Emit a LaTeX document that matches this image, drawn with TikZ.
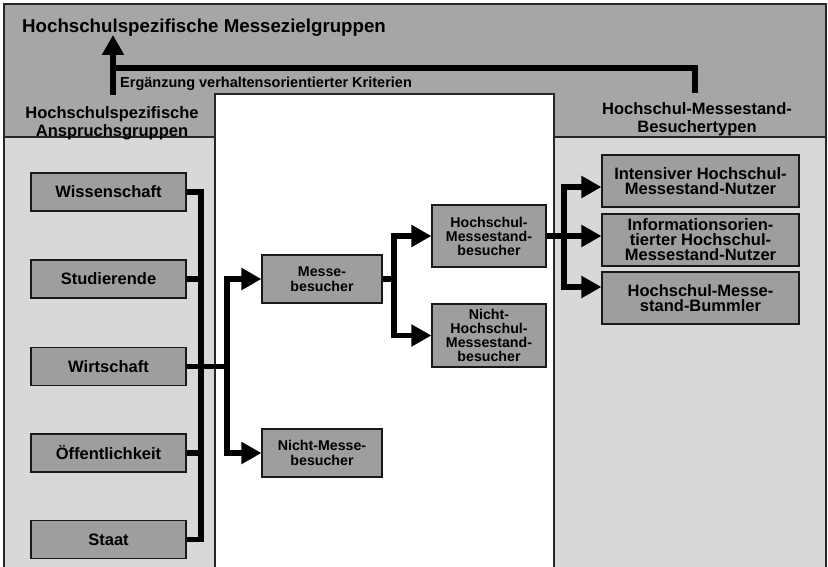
\documentclass[tikz,border=0pt]{standalone}
\usepackage{fontspec}
\setmainfont{Liberation Sans}
\usetikzlibrary{arrows.meta}
\definecolor{bandgray}{HTML}{A6A6A6}
\definecolor{colgray}{HTML}{D8D8D8}
\definecolor{boxgray}{HTML}{9E9E9E}
\begin{document}
\begin{tikzpicture}[x=1pt,y=-1pt,line join=miter,
  frame/.style={draw=black!85,line width=1.1pt},
  box/.style={draw=black!90,line width=1.1pt,fill=boxgray,inner sep=0pt,align=center,
    font=\fontsize{16.5}{15.5}\selectfont\bfseries},
  lbox/.style={box,minimum width=155pt,minimum height=38pt},
  mbox/.style={box,minimum width=120pt,minimum height=48pt,font=\fontsize{14.2}{15}\selectfont\bfseries},
  hbox/.style={box,minimum width=114pt,minimum height=62pt,font=\fontsize{14.2}{14}\selectfont\bfseries},
  rbox/.style={box,minimum width=197pt,minimum height=52pt},
  headtxt/.style={inner sep=0pt,align=center,font=\fontsize{16.5}{18}\selectfont\bfseries},
  conn/.style={line width=5.5pt},
  arr/.style={conn,-{Triangle[length=20pt,width=21pt]}}]
\useasboundingbox (0,0) rectangle (828,567);
% background areas
\fill[bandgray] (4,4) -- (826,4) -- (826,137) -- (554,137) -- (554,94) -- (215,94) -- (215,137) -- (4,137) -- cycle;
\fill[colgray] (4,137) rectangle (215,567);
\fill[colgray] (554,137) rectangle (826,567);
\draw[frame] (4,567) -- (4,4) -- (826,4) -- (826,567);
\draw[frame] (215,567) -- (215,94) -- (554,94) -- (554,567);
\draw[frame] (4,137) -- (215,137);
\draw[frame] (554,137) -- (826,137);
% texts in the band
\node[anchor=base west,inner sep=0pt,font=\fontsize{18.7}{20}\selectfont\bfseries] (title) at (22,33) {Hochschulspezifische Messezielgruppen};
\node[anchor=base west,inner sep=0pt,font=\fontsize{14.5}{16}\selectfont\bfseries] (erg) at (120,88) {Ergänzung verhaltensorientierter Kriterien};
\node[headtxt,anchor=north] (lhead) at (112,106) {Hochschulspezifische\\Anspruchsgruppen};
\node[headtxt,anchor=north] (rhead) at (697,102) {Hochschul-Messestand-\\Besuchertypen};
% top connector
\coordinate (ls) at (113,95);
\coordinate (lt) at (113,35);
\coordinate (rs) at (695,93);
\coordinate (hj) at (113,68);
\draw[conn] (rs) |- (hj);
\draw[arr] (ls) -- (lt);
% left boxes
\node[lbox] (wiss) at (108.5,192) {Wissenschaft};
\node[lbox] (stud) at (108.5,279) {Studierende};
\node[lbox] (wirt) at (108.5,366.5) {Wirtschaft};
\node[lbox] (oeff) at (108.5,453) {Öffentlichkeit};
\node[lbox] (staat) at (108.5,539.5) {Staat};
% middle boxes
\node[mbox] (mb) at (322,279) {Messe-\\besucher};
\node[mbox] (nmb) at (322,453) {Nicht-Messe-\\besucher};
\node[hbox] (hms) at (489,236) {Hochschul-\\Messestand-\\besucher};
\node[hbox,minimum height=63pt] (nhms) at (489,335.5) {Nicht-\\Hochschul-\\Messestand-\\besucher};
% right boxes
\node[rbox] (r1) at (700.5,181) {Intensiver Hochschul-\\Messestand-Nutzer};
\node[rbox,font=\fontsize{16.5}{15}\selectfont\bfseries] (r2) at (700.5,240) {Informationsorien-\\tierter Hochschul-\\Messestand-Nutzer};
\node[rbox] (r3) at (700.5,298) {Hochschul-Messe-\\stand-Bummler};
% left bus
\coordinate (bt) at (201,192);
\coordinate (bb) at (201,539.5);
\draw[conn] (wiss.east) -- (bt) -- (bb) -- (staat.east);
\draw[conn] (stud.east) -- (stud.east -| bt);
\draw[conn] (oeff.east) -- (oeff.east -| bt);
\coordinate (j1) at (227,366.5);
\draw[conn] (wirt.east) -- (j1);
\draw[arr] (j1) |- (mb.west);
\draw[arr] (j1) |- (nmb.west);
% second level
\coordinate (j2) at (394,279);
\draw[conn] (mb.east) -- (j2);
\draw[arr] (j2) |- (hms.west);
\draw[arr] (j2) |- (nhms.west);
% third level
\coordinate (j3) at (564,237);
\coordinate (b1) at (564,187);
\coordinate (b3) at (564,287);
\draw[arr] (hms.east) -- (hms.east -| r2.west);
\draw[arr] (j3) -- (b1) -- (b1 -| r1.west);
\draw[arr] (j3) -- (b3) -- (b3 -| r3.west);
\end{tikzpicture}
\end{document}
